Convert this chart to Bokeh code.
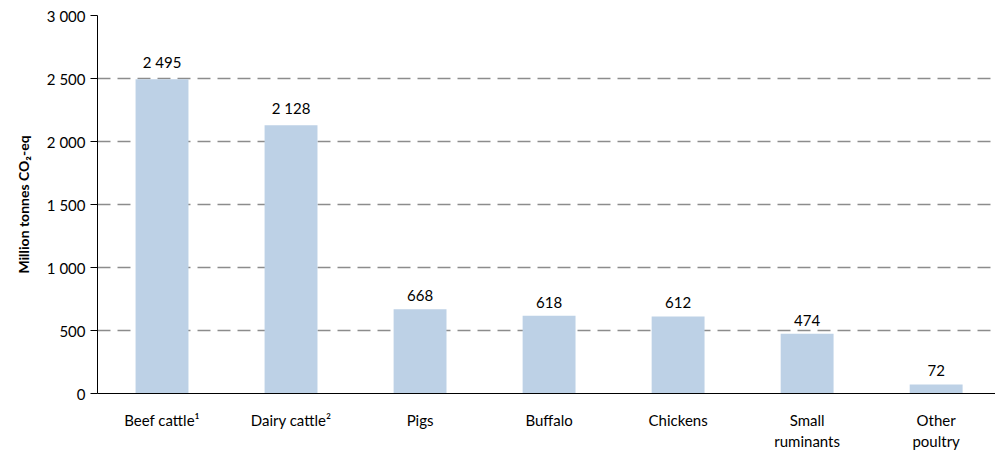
from bokeh.plotting import figure
from bokeh.models import ColumnDataSource, Range1d, FixedTicker, LabelSet
from bokeh.core.properties import value
from bokeh.embed import file_html
from bokeh.resources import INLINE

categories = ["Beef cattle\u00b9", "Dairy cattle\u00b2", "Pigs", "Buffalo", "Chickens", "Small\nruminants", "Other\npoultry"]
values = [2495, 2128, 668, 618, 612, 474, 72]
value_labels = ["2 495", "2 128", "668", "618", "612", "474", "72"]
y_ticks = [0, 500, 1000, 1500, 2000, 2500, 3000]
y_tick_labels = ["0", "500", "1 000", "1 500", "2 000", "2 500", "3 000"]

xs = [i + 0.5 for i in range(len(categories))]
src = ColumnDataSource(dict(x=xs, top=values, lab=value_labels))

FONT = "Lato"

p = figure(width=995, height=453, output_backend="svg", toolbar_location=None,
           x_range=Range1d(0, 6.96), y_range=Range1d(0, 3000),
           min_border_left=97, min_border_right=0, min_border_top=15, min_border_bottom=56)
p.outline_line_color = None

p.vbar(x="x", top="top", width=0.41, source=src, fill_color="#bdd1e6", line_color=None)

labels = LabelSet(x="x", y="top", text="lab", source=src, text_align="center",
                  text_baseline="bottom", y_offset=8, text_font=value(FONT),
                  text_font_size="15px", text_color="#000000")
p.add_layout(labels)

p.xgrid.grid_line_color = None
p.ygrid.ticker = FixedTicker(ticks=y_ticks[1:])
p.ygrid.grid_line_color = "#8c8c8c"
p.ygrid.grid_line_dash = "13 7"
p.ygrid.grid_line_width = 1.3
p.ygrid.level = "underlay"

p.yaxis.ticker = FixedTicker(ticks=y_ticks)
p.yaxis.major_label_overrides = {t: l for t, l in zip(y_ticks, y_tick_labels)}
p.yaxis.minor_tick_line_color = None
p.yaxis.major_tick_out = 7
p.yaxis.major_tick_in = 0
p.yaxis.major_tick_line_color = "#000000"
p.yaxis.axis_line_color = "#000000"
p.yaxis.major_label_text_font = FONT
p.yaxis.major_label_text_font_size = "15px"
p.yaxis.major_label_text_color = "#000000"
p.yaxis.major_label_standoff = 5
p.yaxis.axis_label = "Million tonnes CO\u2082-eq"
p.yaxis.axis_label_text_font = FONT
p.yaxis.axis_label_text_font_size = "14px"
p.yaxis.axis_label_text_font_style = "bold"
p.yaxis.axis_label_text_color = "#000000"
p.yaxis.axis_label_standoff = 12

p.xaxis.ticker = FixedTicker(ticks=xs)
p.xaxis.major_label_overrides = {x: c for x, c in zip(xs, categories)}
p.xaxis.major_tick_line_color = None
p.xaxis.minor_tick_line_color = None
p.xaxis.axis_line_color = "#000000"
p.xaxis.major_label_text_font = FONT
p.xaxis.major_label_text_font_size = "15px"
p.xaxis.major_label_text_color = "#000000"
p.xaxis.major_label_standoff = 11

open("out.html", "w").write(file_html(p, INLINE))
